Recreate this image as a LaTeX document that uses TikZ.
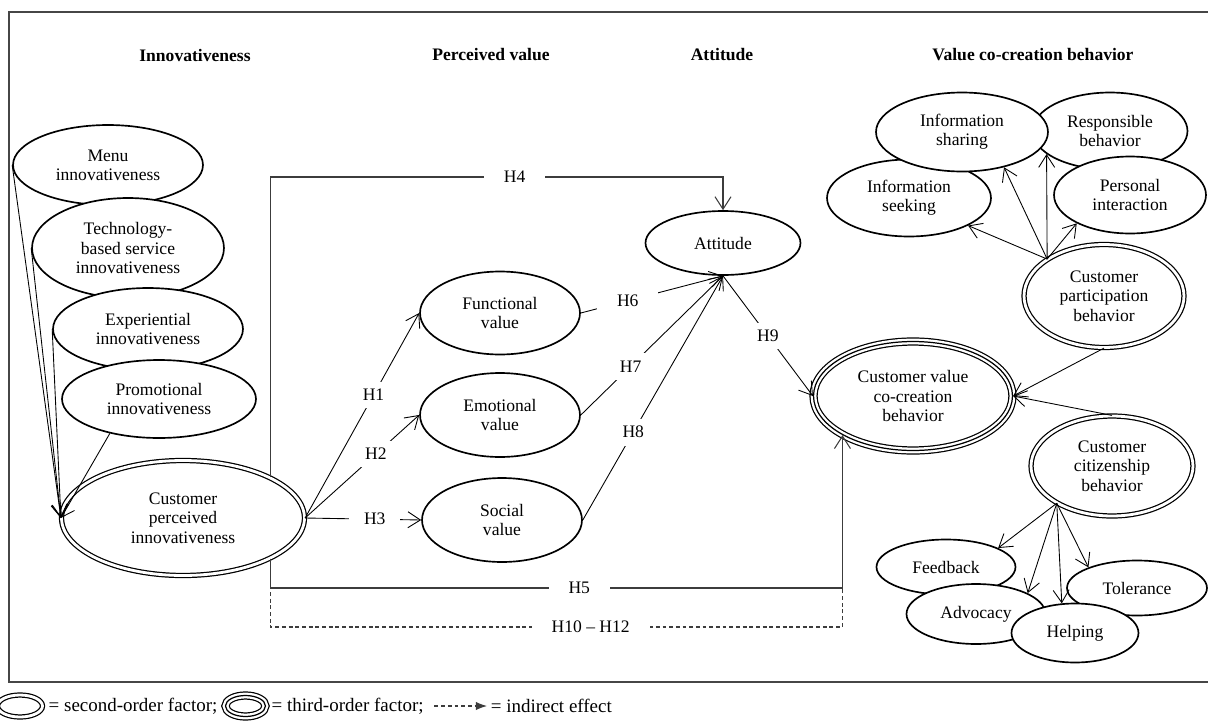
\documentclass[tikz,border=0pt]{standalone}
\usepackage{fontspec}
\setmainfont{Liberation Serif}
\usepackage{tikz}
\usetikzlibrary{arrows.meta,positioning,shapes.geometric}
\definecolor{lnkgray}{RGB}{60,60,60}
\definecolor{framegray}{RGB}{70,70,70}

\begin{document}
\begin{tikzpicture}[x=0.02cm, y=-0.02cm, font=\fontsize{10}{11}\selectfont,
  fac/.style={draw, ellipse, fill=white, line width=0.95pt, inner sep=0pt, align=center},
  sec/.style={fac, double, double distance=1.6pt, line width=0.7pt},
  thr/.style={ellipse, inner sep=0pt, align=center, draw, line width=0.7pt,
    preaction={draw, fill=white, line width=4.7pt},
    preaction={draw=white, line width=3.3pt}},
  arr/.style={-{Straight Barb[length=2.5mm, width=3.2mm]}, line width=0.5pt},
  hline/.style={arr, lnkgray, line width=0.6pt},
  indir/.style={lnkgray, line width=0.6pt, dash pattern=on 2.2pt off 1.6pt},
  lab/.style={fill=white, text=black, inner xsep=0.3cm, inner ysep=0.15cm},
  wlab/.style={lab, inner xsep=0.4cm},
  head/.style={font=\fontsize{10}{11}\selectfont\bfseries},
  leg/.style={inner sep=1pt, font=\fontsize{10.8}{12}\selectfont}]
\useasboundingbox (0,0) rectangle (1208,724);
% Frame
\draw[line width=0.9pt, framegray] (9,12) rectangle (1216,682);
% Headings
\node[head] (hinn) at (195,55) {Innovativeness};
\node[head] (hval) at (491,55) {Perceived value};
\node[head] (hatt) at (722,55) {Attitude};
\node[head] (hvcb) at (1033,55) {Value co-creation behavior};
% Innovativeness
\node[fac, minimum width=3.8cm, minimum height=1.6cm] (menu) at (108,165) {Menu\\innovativeness};
\node[fac, minimum width=3.84cm, minimum height=2.0cm] (tech) at (128,248) {Technology-\\based service\\innovativeness};
\node[fac, minimum width=3.8cm, minimum height=1.64cm] (exper) at (148,329) {Experiential\\innovativeness};
\node[fac, minimum width=3.88cm, minimum height=1.56cm] (promo) at (159,399) {Promotional\\innovativeness};
\node[sec, minimum width=4.86cm, minimum height=2.3cm] (cpi) at (183,518) {Customer\\perceived\\innovativeness};
\draw[arr] (menu.west) -- (cpi.west);
\draw[arr] (tech.west) -- (cpi.west);
\draw[arr] (exper.west) -- (cpi.west);
\draw[arr] (promo.215) -- (cpi.west);
% Perceived value
\node[fac, minimum width=3.2cm, minimum height=1.66cm] (func) at (500,313) {Functional\\value};
\node[fac, minimum width=3.2cm, minimum height=1.68cm] (emo) at (500,415) {Emotional\\value};
\node[fac, minimum width=3.2cm, minimum height=1.68cm] (soc) at (502,520) {Social\\value};
\draw[arr] (cpi.east) -- (func.west) node[lab, pos=0.6] {H1};
\draw[arr] (cpi.east) -- (emo.west) node[lab, pos=0.62] {H2};
\draw[arr] (cpi.east) -- (soc.west) node[lab, pos=0.6] {H3};
% Attitude
\node[fac, minimum width=3.1cm, minimum height=1.28cm] (att) at (723,243) {Attitude};
\draw[arr] (func.east) -- (att.south) node[wlab, pos=0.33] {H6};
\draw[arr] (emo.east) -- (att.south) node[lab, pos=0.35] {H7};
\draw[arr] (soc.east) -- (att.south) node[lab, pos=0.36] {H8};
% Value co-creation
\node[thr, minimum width=3.98cm, minimum height=2.18cm] (cvcb) at (913,396) {Customer value\\co-creation\\behavior};
\draw[arr] (att.south) -- (cvcb.west) node[lab, pos=0.5] {H9};
% Direct paths H4, H5 and indirect H10-H12
\coordinate (h4y) at (0,177);
\coordinate (h5y) at (0,588);
\coordinate (h10y) at (0,627);
\draw[hline] (cpi.25) |- node[wlab, pos=0.77] {H4} (att.north |- h4y) -- (att.north);
\draw[indir] (cpi.-25) |- node[wlab, pos=0.78] {H10 -- H12} (cvcb.209 |- h10y) -- (cvcb.209 |- h5y);
\draw[hline] (cpi.-25) |- node[wlab, pos=0.77] {H5} (cvcb.209 |- h5y) -- (cvcb.209);
% Participation
\node[fac, minimum width=3.1cm, minimum height=1.54cm] (resp) at (1110,131) {Responsible\\behavior};
\node[fac, minimum width=3.28cm, minimum height=1.54cm] (seek) at (909,198) {Information\\seeking};
\node[fac, minimum width=3.44cm, minimum height=1.58cm] (share) at (962,132) {Information\\sharing};
\node[fac, minimum width=3.04cm, minimum height=1.54cm] (pers) at (1130,195) {Personal\\interaction};
\node[sec, minimum width=3.2cm, minimum height=2.06cm] (cpb) at (1104,296) {Customer\\participation\\behavior};
\draw[arr] (cpb.147) -- (seek.-25);
\draw[arr] (cpb.147) -- (share.-40);
\draw[arr] (cpb.147) -- (resp.200);
\draw[arr] (cpb.147) -- (pers.208);
\draw[arr] (cpb.south) -- (cvcb.east);
% Citizenship
\node[sec, minimum width=3.24cm, minimum height=2.0cm] (ccb) at (1112,466) {Customer\\citizenship\\behavior};
\draw[arr] (ccb.north) -- (cvcb.east);
\node[fac, minimum width=2.78cm, minimum height=1.1cm] (feed) at (946,567) {Feedback};
\node[fac, minimum width=2.78cm, minimum height=1.2cm] (adv) at (976,614) {Advocacy};
\node[fac, minimum width=2.8cm, minimum height=1.1cm] (tol) at (1137,588) {Tolerance};
\node[fac, minimum width=2.54cm, minimum height=1.18cm] (help) at (1075,633) {Helping};
\draw[arr] (ccb.214) -- (feed.20);
\draw[arr] (ccb.214) -- (adv.22);
\draw[arr] (ccb.214) -- (help.114);
\draw[arr] (ccb.214) -- (tol.157);
% Legend
\node[sec, minimum width=0.9cm, minimum height=0.44cm] (lgsec) at (20,706) {};
\node[leg, right=2pt of lgsec] (lgsect) {= second-order factor;};
\node[thr, minimum width=0.8cm, minimum height=0.42cm, right=3pt of lgsect] (lgthr) {};
\node[leg, right=2pt of lgthr] (lgthrt) {= third-order factor;};
\coordinate[right=5pt of lgthrt] (lgfrom);
\coordinate[right=1.05cm of lgfrom] (lgto);
\draw[indir, -{Latex[length=2.2mm]}] (lgfrom) -- (lgto);
\node[leg, right=1pt of lgto] (lgind) {= indirect effect};
\end{tikzpicture}
\end{document}
